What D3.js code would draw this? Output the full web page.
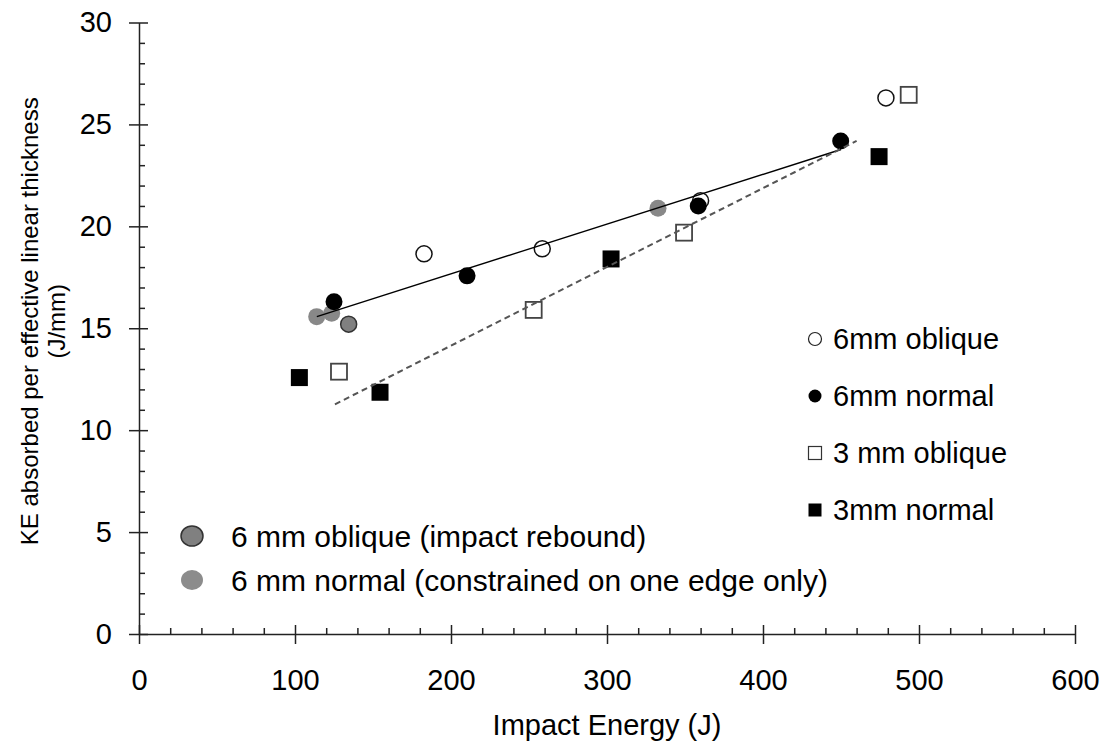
<!DOCTYPE html>
<html>
<head>
<meta charset="utf-8">
<script src="https://cdn.jsdelivr.net/npm/d3@7"></script>
<style>
  body { margin: 0; background: #fff; }
</style>
</head>
<body>
<script>
// data: impact energy (J) and KE absorbed (J/mm)
const oblique6Energy = [182.7, 258.5, 360.0, 478.8];
const oblique6KE = [18.65, 18.9, 21.26, 26.3];
const normal6Energy = [125.0, 210.3, 358.5, 449.8];
const normal6KE = [16.3, 17.57, 21.0, 24.19];
const oblique3Energy = [128.2, 253.0, 349.4, 493.4];
const oblique3KE = [12.87, 15.9, 19.69, 26.45];
const normal3Energy = [102.8, 154.5, 302.6, 474.4];
const normal3KE = [12.58, 11.86, 18.4, 23.42];
const reboundEnergy = [134.4];
const reboundKE = [15.2];
const constrainedEnergy = [113.9, 123.5, 332.7];
const constrainedKE = [15.57, 15.74, 20.89];

// trend line end points
const fit6Energy = [114, 450];
const fit6KE = [15.57, 23.77];
const fit3Energy = [125.6, 460];
const fit3KE = [11.27, 24.19];

const xMajor = [0, 100, 200, 300, 400, 500, 600];
const xMinor = d3.range(0, 601, 20).filter(v => v % 100 !== 0);
const yMajor = [0, 5, 10, 15, 20, 25, 30];
const yMinor = d3.range(0, 31, 1).filter(v => v % 5 !== 0);

const legendRight = ["6mm oblique", "6mm normal", "3 mm oblique", "3mm normal"];
const legendBottom = ["6 mm oblique (impact rebound)", "6 mm normal (constrained on one edge only)"];

const zip = (a, b) => a.map((v, i) => [v, b[i]]);

const width = 1109
const height = 748
const font = "'Liberation Sans', Arial, sans-serif"
const fs = 29

const x = d3.scaleLinear().domain([0, 600]).range([139, 1075])
const y = d3.scaleLinear().domain([0, 30]).range([634, 22.5])

const svg = d3.select("body").append("svg")
    .attr("width", width)
    .attr("height", height)
    .attr("font-family", font)

// y axis, major ticks cross the line
const yAxis = svg.append("g")
    .attr("transform", `translate(${x(0)},0)`)
    .call(d3.axisLeft(y).tickValues(yMajor).tickSize(10).tickSizeOuter(0).tickPadding(17))
yAxis.selectAll(".tick line").attr("x1", 9)
yAxis.selectAll("text").attr("font-size", fs).attr("font-family", font).attr("fill", "#000")

svg.append("g")
    .attr("transform", `translate(${x(0)},0)`)
    .call(d3.axisRight(y).tickValues(yMinor).tickSize(6).tickFormat(""))
    .call(g => g.select(".domain").remove())

// x axis
const xAxis = svg.append("g")
    .attr("transform", `translate(0,${y(0)})`)
    .call(d3.axisBottom(x).tickValues(xMajor).tickSize(10).tickSizeOuter(0).tickPadding(25))
xAxis.selectAll(".tick line").attr("y1", -9)
xAxis.selectAll("text").attr("font-size", fs).attr("font-family", font).attr("fill", "#000")

svg.append("g")
    .attr("transform", `translate(0,${y(0)})`)
    .call(d3.axisTop(x).tickValues(xMinor).tickSize(6).tickFormat(""))
    .call(g => g.select(".domain").remove())

svg.selectAll(".domain, .tick line")
    .attr("stroke", "#222")
    .attr("stroke-width", 1.5)

// axis titles
svg.append("text")
    .attr("x", x(300))
    .attr("y", 735)
    .attr("text-anchor", "middle")
    .attr("font-size", fs)
    .text("Impact Energy (J)")

const yTitle = svg.append("text")
    .attr("transform", `translate(38,${y(15) - 7}) rotate(-90)`)
    .attr("text-anchor", "middle")
    .attr("font-size", 24)
yTitle.append("tspan").attr("x", 0).attr("y", 0).text("KE absorbed per effective linear thickness")
yTitle.append("tspan").attr("x", 0).attr("y", 27).text("(J/mm)")

// markers
const plot = svg.append("g")

function circles(data, r, fill, stroke, sw) {
    plot.selectAll(null)
        .data(data)
        .enter()
        .append("circle")
        .attr("cx", d => x(d[0]))
        .attr("cy", d => y(d[1]))
        .attr("r", r)
        .attr("fill", fill)
        .attr("stroke", stroke)
        .attr("stroke-width", sw)
}

function squares(data, s, fill, stroke, sw) {
    plot.selectAll(null)
        .data(data)
        .enter()
        .append("rect")
        .attr("x", d => x(d[0]) - s / 2)
        .attr("y", d => y(d[1]) - s / 2)
        .attr("width", s)
        .attr("height", s)
        .attr("fill", fill)
        .attr("stroke", stroke)
        .attr("stroke-width", sw)
}

circles(zip(constrainedEnergy, constrainedKE), 8.5, "#888", "none", 0)
circles(zip(reboundEnergy, reboundKE), 8, "#808080", "#333", 1.5)
circles(zip(oblique6Energy, oblique6KE), 8, "#fff", "#111", 1.5)
circles(zip(normal6Energy, normal6KE), 8.5, "#000", "none", 0)
squares(zip(oblique3Energy, oblique3KE), 16, "#fff", "#444", 1.8)
squares(zip(normal3Energy, normal3KE), 17, "#000", "none", 0)

// trend lines on top
const line = d3.line().x(d => x(d[0])).y(d => y(d[1]))
svg.append("path")
    .attr("d", line(zip(fit6Energy, fit6KE)))
    .attr("fill", "none")
    .attr("stroke", "#000")
    .attr("stroke-width", 1.4)
svg.append("path")
    .attr("d", line(zip(fit3Energy, fit3KE)))
    .attr("fill", "none")
    .attr("stroke", "#555")
    .attr("stroke-width", 2)
    .attr("stroke-dasharray", "6,4")

// right legend
const legR = svg.append("g").attr("font-size", fs)
legendRight.forEach((name, i) => {
    const cy = 339 + i * 57
    const g = legR.append("g").attr("transform", `translate(815,${cy})`)
    if (i < 2) {
        g.append("circle").attr("r", 6.5)
            .attr("fill", i === 0 ? "#fff" : "#000")
            .attr("stroke", i === 0 ? "#222" : "none")
            .attr("stroke-width", 1.2)
    } else {
        g.append("rect").attr("x", -6.5).attr("y", -6.5).attr("width", 13).attr("height", 13)
            .attr("fill", i === 2 ? "#fff" : "#000")
            .attr("stroke", i === 2 ? "#333" : "none")
            .attr("stroke-width", 1.2)
    }
    g.append("text").attr("x", 18).attr("dy", "0.36em").text(name)
})

// bottom legend
const legB = svg.append("g").attr("font-size", 30)
legendBottom.forEach((name, i) => {
    const cy = 536 + i * 44
    const g = legB.append("g").attr("transform", `translate(192,${cy})`)
    g.append("ellipse").attr("rx", 11).attr("ry", 10)
        .attr("fill", i === 0 ? "#808080" : "#8c8c8c")
        .attr("stroke", i === 0 ? "#333" : "none")
        .attr("stroke-width", 1.5)
    g.append("text").attr("x", 39).attr("dy", "0.36em").text(name)
})
</script>
</body>
</html>
